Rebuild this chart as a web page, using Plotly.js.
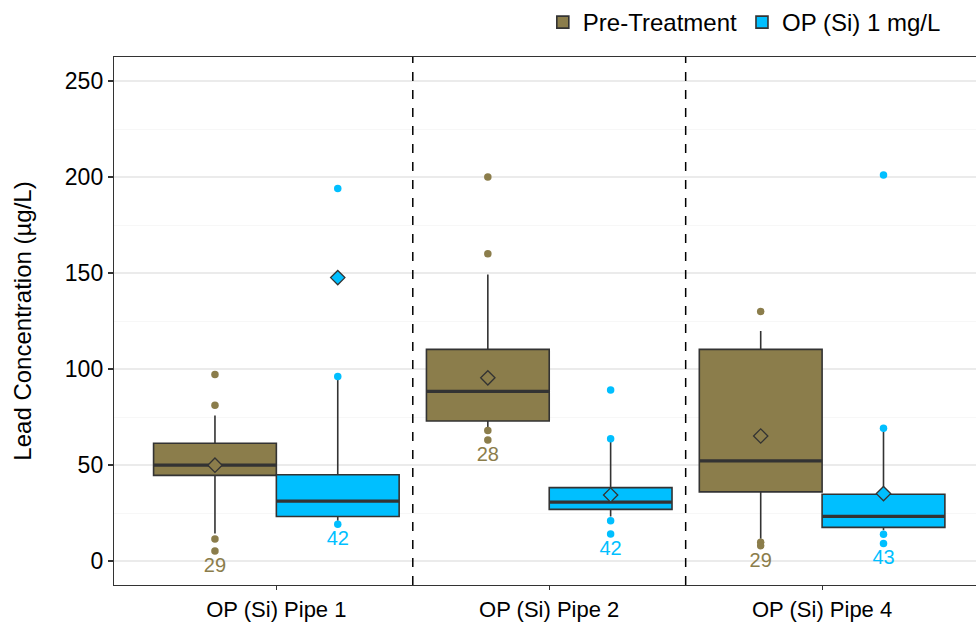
<!DOCTYPE html>
<html>
<head>
<meta charset="utf-8">
<script src="https://cdn.plot.ly/plotly-3.0.1.min.js"></script>
<style>html,body{margin:0;padding:0;background:#fff;}#chart{width:976px;height:622px;}</style>
</head>
<body>
<div id="chart"></div>
<script>
// ---- data ----
const categories = ['OP (Si) Pipe 1', 'OP (Si) Pipe 2', 'OP (Si) Pipe 4'];
const seriesNames = ['Pre-Treatment', 'OP (Si) 1 mg/L'];

const preQ1 = [44.6, 72.9, 36.0];
const preMedian = [49.9, 88.3, 52.2];
const preQ3 = [61.3, 110.2, 110.2];
const preLower = [14.3, 69.5, 11.6];
const preUpper = [75.8, 149.2, 119.8];
const preMean = [49.9, 95.4, 65.1];
const preOutliers = [[97.2, 81.1, 11.4, 5.2], [200, 160, 68, 63], [130, 9.8, 8.0]];
const preN = [29, 28, 29];

const opQ1 = [23.2, 26.9, 17.5];
const opMedian = [31.2, 30.7, 23.2];
const opQ3 = [44.9, 38.2, 34.8];
const opLower = [21.0, 23.2, 16.0];
const opUpper = [96.1, 63.7, 69.2];
const opMean = [147.6, 34.4, 35.1];
const opOutliers = [[194, 96.1, 19.1], [89, 63.7, 21, 14.1], [201, 69.2, 13.9, 9.1]];
const opN = [42, 42, 43];

const yTicks = [0, 50, 100, 150, 200, 250];

// ---- styling ----
const colPre = '#8B7D4B';
const colOp = '#00BFFF';
const dark = '#333333';
const FONT = 'Liberation Sans, Arial, sans-serif';
const dodge = 0.225, bw = 0.45;

const series = [
  {name: seriesNames[0], color: colPre, off: -dodge, q1: preQ1, med: preMedian, q3: preQ3, lo: preLower, hi: preUpper, mean: preMean, out: preOutliers, n: preN},
  {name: seriesNames[1], color: colOp, off: dodge, q1: opQ1, med: opMedian, q3: opQ3, lo: opLower, hi: opUpper, mean: opMean, out: opOutliers, n: opN}
];

const traces = [];
series.forEach(s => {
  const xs = categories.map((c, i) => i + s.off);
  traces.push({
    type: 'box', name: s.name, x: xs,
    q1: s.q1, median: s.med, q3: s.q3, lowerfence: s.lo, upperfence: s.hi,
    width: bw, whiskerwidth: 0, boxpoints: false,
    fillcolor: s.color, line: {color: dark, width: 1.6},
    hoverinfo: 'skip', showlegend: true
  });
});
series.forEach(s => {
  // thick median lines
  const mx = [], my = [];
  categories.forEach((c, i) => {
    mx.push(i + s.off - bw / 2, i + s.off + bw / 2, null);
    my.push(s.med[i], s.med[i], null);
  });
  traces.push({type: 'scatter', mode: 'lines', x: mx, y: my, line: {color: dark, width: 3.2}, showlegend: false, hoverinfo: 'skip'});
  // outliers
  const ox = [], oy = [];
  s.out.forEach((arr, i) => arr.forEach(v => { ox.push(i + s.off); oy.push(v); }));
  traces.push({type: 'scatter', mode: 'markers', x: ox, y: oy, marker: {color: s.color, size: 7.5}, showlegend: false, hoverinfo: 'skip'});
});
series.forEach(s => {
  // means
  traces.push({type: 'scatter', mode: 'markers', x: categories.map((c, i) => i + s.off), y: s.mean,
    marker: {symbol: 'diamond', size: 11, color: s.color, line: {color: dark, width: 1.3}}, showlegend: false, hoverinfo: 'skip'});
  // counts
  const ly = s.out.map((arr, i) => Math.min(s.lo[i], ...arr) - 8.3);
  traces.push({type: 'scatter', mode: 'text', x: categories.map((c, i) => i + s.off), y: ly,
    text: s.n.map(String), textfont: {family: FONT, size: 20, color: s.color}, showlegend: false, hoverinfo: 'skip'});
});

const layout = {
  width: 976, height: 622,
  margin: {l: 114, r: 0, t: 54, b: 37},
  paper_bgcolor: '#ffffff', plot_bgcolor: '#ffffff',
  font: {family: FONT, size: 23, color: '#000000'},
  showlegend: true,
  legend: {orientation: 'h', x: 0.965, xanchor: 'right', y: 1.066, yanchor: 'middle',
    font: {family: FONT, size: 24, color: '#000'}, itemwidth: 30, bgcolor: 'rgba(0,0,0,0)', traceorder: 'normal'},
  xaxis: {
    range: [-0.595, 2.564], tickvals: [0, 1, 2], ticktext: categories,
    showgrid: false, zeroline: false, showline: true, linecolor: dark, linewidth: 1.2, mirror: true,
    ticks: 'outside', ticklen: 4, tickcolor: dark, tickwidth: 1.1,
    tickfont: {family: FONT, size: 22, color: '#000'}, fixedrange: true
  },
  yaxis: {
    range: [-12.5, 262.5], tickvals: yTicks,
    showgrid: true, gridcolor: '#EBEBEB', gridwidth: 1.2, zeroline: false,
    minor: {dtick: 25, tick0: 0, showgrid: true, gridcolor: '#F4F4F4', gridwidth: 0.7},
    showline: true, linecolor: dark, linewidth: 1.2,
    ticks: 'outside', ticklen: 5, tickcolor: dark, tickwidth: 1.1,
    tickfont: {family: FONT, size: 23, color: '#000'},
    title: {text: 'Lead Concentration (µg/L)', font: {family: FONT, size: 24, color: '#000'}, standoff: 26},
    fixedrange: true
  },
  shapes: [0.5, 1.5].map(v => ({type: 'line', xref: 'x', yref: 'paper', x0: v, x1: v, y0: 0, y1: 1,
    line: {color: '#000', width: 1.5, dash: 'dash'}, layer: 'above'}))
};

Plotly.newPlot('chart', traces, layout, {displayModeBar: false, staticPlot: true});
</script>
</body>
</html>
